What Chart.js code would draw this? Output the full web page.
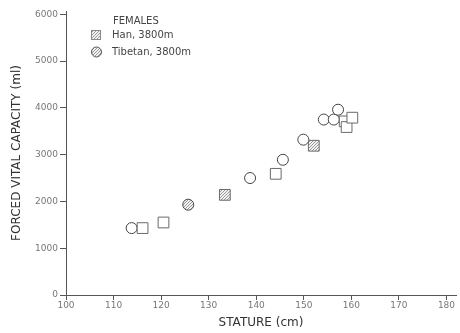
<!DOCTYPE html>
<html>
<head>
<meta charset="utf-8">
<script src="https://cdn.jsdelivr.net/npm/chart.js@4"></script>
<style>
  html, body { margin: 0; padding: 0; background: #fff; }
  #wrap { width: 460px; height: 333px; position: relative; }
</style>
</head>
<body>
<div id="wrap"><canvas id="fvcChart" width="460" height="333"></canvas></div>
<script>
const hanStature = [116.1, 120.5, 133.4, 144.1, 152.1, 158.6, 159.0, 160.2];
const hanFvc = [1430, 1550, 2140, 2590, 3190, 3710, 3590, 3790];
const tibStature = [113.8, 125.7, 138.7, 145.6, 149.9, 154.2, 156.3, 157.2];
const tibFvc = [1430, 1930, 2500, 2890, 3320, 3750, 3750, 3960];
const xTicks = [100, 110, 120, 130, 140, 150, 160, 170, 180];
const yTicks = [0, 1000, 2000, 3000, 4000, 5000, 6000];
const legendTitle = "FEMALES";
const seriesNames = ["Han, 3800m", "Tibetan, 3800m"];

function makePattern() {
  const p = document.createElement("canvas");
  p.width = 3;
  p.height = 3;
  const c = p.getContext("2d");
  c.fillStyle = "#f2f2f2";
  c.fillRect(0, 0, 3, 3);
  c.fillStyle = "#9a9a9a";
  c.fillRect(0, 0, 1, 1);
  c.fillRect(2, 1, 1, 1);
  c.fillRect(1, 2, 1, 1);
  return c.createPattern(p, "repeat");
}

const ctx = document.getElementById("fvcChart").getContext("2d");
const hatch = makePattern();

const toPoints = (xs, ys) => xs.map((x, i) => ({ x: x, y: ys[i] }));

const hanFill = hanStature.map((_, i) => (i === 2 || i === 4 ? hatch : "#fff"));
const tibFill = tibStature.map((_, i) => (i === 1 ? hatch : "#fff"));

const fontFam = "'DejaVu Sans', sans-serif";

// legend drawn inside the plot, top-left
const insideLegend = {
  id: "insideLegend",
  afterDraw(chart) {
    const c = chart.ctx;
    c.save();
    c.fillStyle = "#444";
    c.font = "10px " + fontFam;
    c.textBaseline = "middle";
    c.fillText(legendTitle, 113, 21);
    c.fillText(seriesNames[0], 112, 35);
    c.fillText(seriesNames[1], 112, 52);

    c.strokeStyle = "#888";
    c.lineWidth = 1;
    c.fillStyle = hatch;
    c.fillRect(91, 30, 10, 10);
    c.strokeRect(91.5, 30.5, 9, 9);

    c.beginPath();
    c.arc(96.5, 52, 5, 0, Math.PI * 2);
    c.fillStyle = hatch;
    c.fill();
    c.strokeStyle = "#555";
    c.stroke();
    c.restore();
  }
};

new Chart(ctx, {
  type: "scatter",
  data: {
    datasets: [
      {
        label: seriesNames[0],
        data: toPoints(hanStature, hanFvc),
        pointStyle: "rect",
        pointRadius: 7.6,
        pointBorderWidth: 1,
        pointBorderColor: "#6a6a6a",
        pointBackgroundColor: hanFill,
      },
      {
        label: seriesNames[1],
        data: toPoints(tibStature, tibFvc),
        pointStyle: "circle",
        pointRadius: 5.5,
        pointBorderWidth: 1,
        pointBorderColor: "#444",
        pointBackgroundColor: tibFill,
      },
    ],
  },
  options: {
    responsive: false,
    animation: false,
    layout: { autoPadding: false, padding: { top: 11, right: 4 } },
    plugins: {
      legend: { display: false },
      tooltip: { enabled: false },
    },
    scales: {
      x: {
        type: "linear",
        min: 100,
        max: 182,
        afterBuildTicks: (s) => { s.ticks = xTicks.map((v) => ({ value: v })); },
        afterFit: (s) => { s.height = 38; },
        grid: { display: true, drawOnChartArea: false, drawTicks: true, tickLength: 5, tickColor: "#555" },
        border: { color: "#555", width: 1 },
        ticks: {
          color: "#777",
          font: { size: 9, family: fontFam },
          padding: 0,
          maxRotation: 0,
          callback: (v) => String(v),
        },
        title: {
          display: true,
          text: "STATURE (cm)",
          color: "#333",
          font: { size: 12, family: fontFam },
          padding: { top: 0, bottom: 3 },
        },
      },
      y: {
        type: "linear",
        min: 0,
        max: 6070,
        afterBuildTicks: (s) => { s.ticks = yTicks.map((v) => ({ value: v })); },
        afterFit: (s) => { s.width = 66; },
        grid: { display: true, drawOnChartArea: false, drawTicks: true, tickLength: 6, tickColor: "#555" },
        border: { color: "#555", width: 1 },
        ticks: {
          color: "#777",
          font: { size: 9, family: fontFam },
          padding: 2,
          callback: (v) => String(v),
        },
        title: {
          display: true,
          text: "FORCED VITAL CAPACITY (ml)",
          color: "#333",
          font: { size: 12, family: fontFam },
          padding: { top: 10, bottom: 0 },
        },
      },
    },
  },
  plugins: [insideLegend],
});
</script>
</body>
</html>
